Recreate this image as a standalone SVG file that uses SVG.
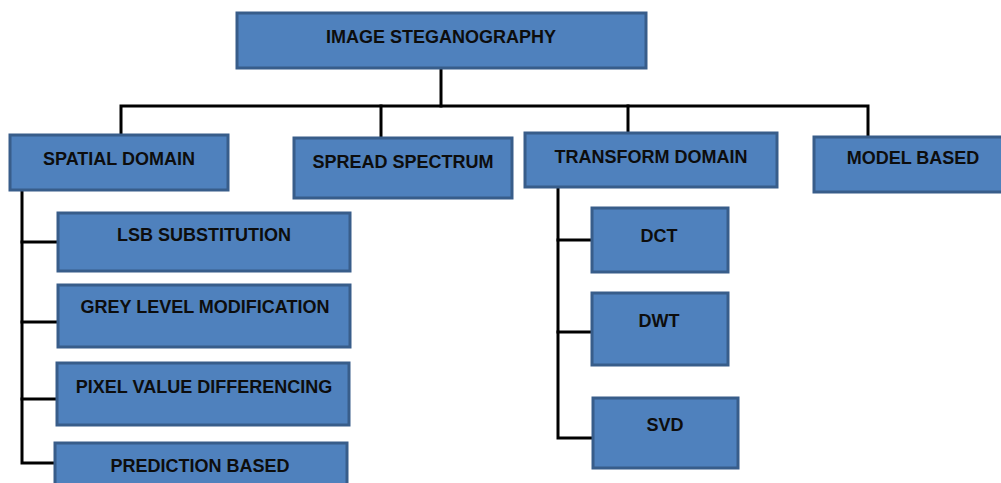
<svg xmlns="http://www.w3.org/2000/svg" width="1001" height="483" viewBox="0 0 1001 483">
<style>
.box{fill:#4F81BD;stroke:#385D8A;stroke-width:3}
.lbl{font-family:"Liberation Sans",Arial,sans-serif;font-weight:bold;font-size:18px;fill:#0d0d0d;text-anchor:middle}
.ln{stroke:#000;stroke-width:3;fill:none;stroke-linejoin:miter;stroke-linecap:square}
</style>
<rect width="1001" height="483" fill="#fff"/>
<g id="connectors">
<path class="ln" d="M441,68 V106"/>
<path class="ln" d="M121,134 V106 H868 V136"/>
<path class="ln" d="M381,106 V137"/>
<path class="ln" d="M628,106 V132"/>
<path class="ln" d="M22,191 V463 H55"/>
<path class="ln" d="M22,242 H58"/>
<path class="ln" d="M22,322 H58"/>
<path class="ln" d="M22,399 H57"/>
<path class="ln" d="M558,188 V438 H593"/>
<path class="ln" d="M558,240 H592"/>
<path class="ln" d="M558,332 H592"/>
</g>
<g id="n-image-steganography"><rect class="box" x="237" y="13" width="409" height="55"/><text class="lbl" x="441" y="43">IMAGE STEGANOGRAPHY</text></g>
<g id="n-spatial-domain"><rect class="box" x="10" y="135" width="218" height="55"/><text class="lbl" x="119" y="165">SPATIAL DOMAIN</text></g>
<g id="n-spread-spectrum"><rect class="box" x="294" y="138" width="218" height="60"/><text class="lbl" x="403" y="168">SPREAD SPECTRUM</text></g>
<g id="n-transform-domain"><rect class="box" x="525" y="133" width="252" height="54"/><text class="lbl" x="651" y="163">TRANSFORM DOMAIN</text></g>
<g id="n-model-based"><rect class="box" x="814" y="137" width="200" height="55"/><text class="lbl" x="913" y="164">MODEL BASED</text></g>
<g id="n-lsb"><rect class="box" x="58" y="213" width="292" height="58"/><text class="lbl" x="204" y="241">LSB SUBSTITUTION</text></g>
<g id="n-grey"><rect class="box" x="58" y="285" width="292" height="62"/><text class="lbl" x="205" y="313">GREY LEVEL MODIFICATION</text></g>
<g id="n-pixel"><rect class="box" x="57" y="363" width="292" height="62"/><text class="lbl" x="204" y="393">PIXEL VALUE DIFFERENCING</text></g>
<g id="n-prediction"><rect class="box" x="55" y="443" width="292" height="60"/><text class="lbl" x="200" y="472">PREDICTION BASED</text></g>
<g id="n-dct"><rect class="box" x="592" y="208" width="136" height="64"/><text class="lbl" x="659" y="242">DCT</text></g>
<g id="n-dwt"><rect class="box" x="592" y="293" width="136" height="72"/><text class="lbl" x="659" y="327">DWT</text></g>
<g id="n-svd"><rect class="box" x="593" y="398" width="145" height="70"/><text class="lbl" x="665" y="431">SVD</text></g>
</svg>
